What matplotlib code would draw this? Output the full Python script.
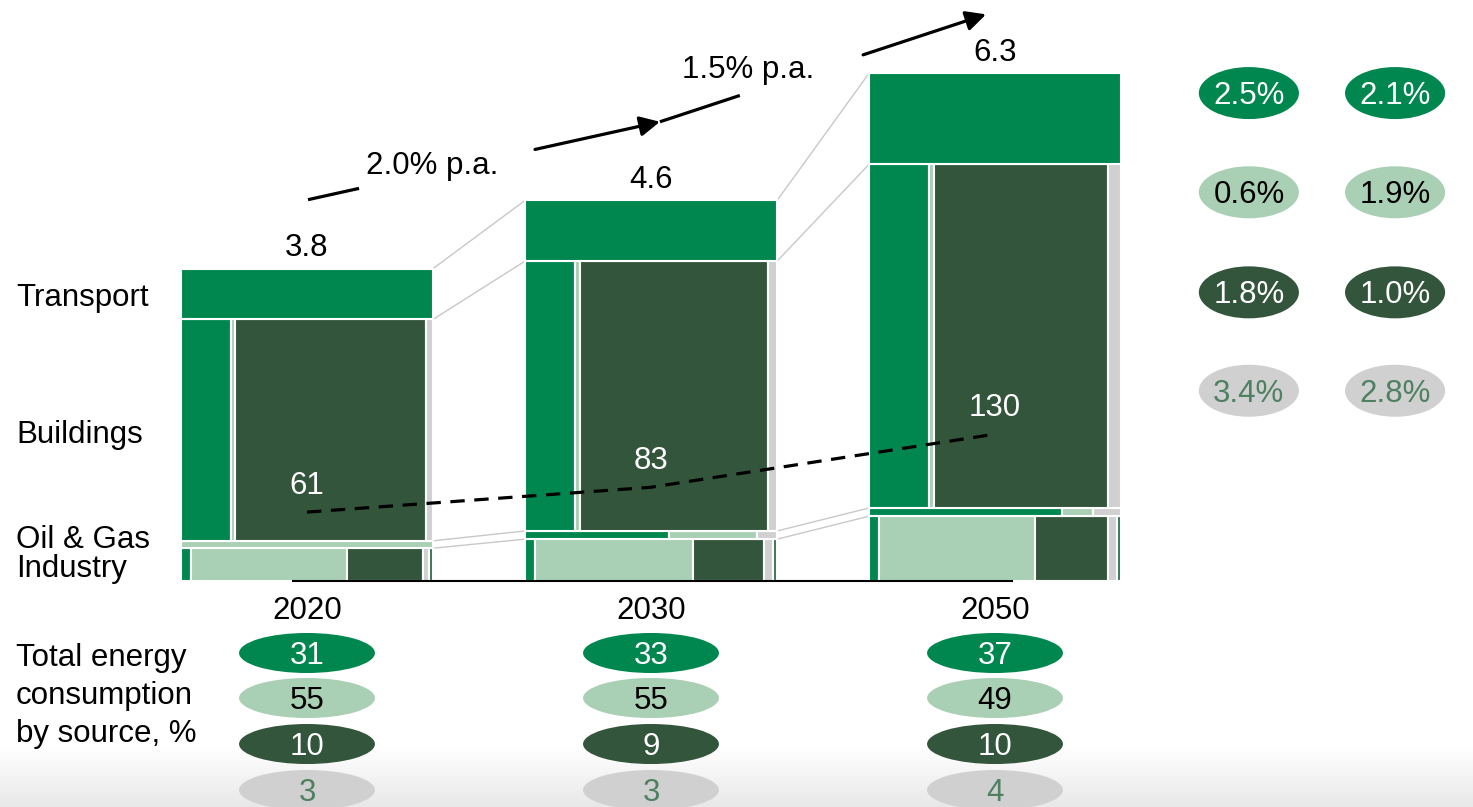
import numpy as np
import matplotlib.pyplot as plt
from matplotlib.patches import Ellipse
from matplotlib.colors import LinearSegmentedColormap

plt.rcParams['font.family'] = ['Liberation Sans', 'DejaVu Sans']
FS = 22.5

# ---- data ----
years = ['2020', '2030', '2050']
total_labels = ['3.8', '4.6', '6.3']

# stacked bottom -> top
sectors = ['Industry', 'Oil & Gas', 'Buildings', 'Transport']
sector_height = {
    'Industry':  [0.40, 0.51, 0.79],
    'Oil & Gas': [0.09, 0.10, 0.10],
    'Buildings': [2.70, 3.29, 4.19],
    'Transport': [0.62, 0.74, 1.11],
}

# width split of each sector by source (%), order: green, light green, dark green, grey, other
source_share = {
    'Transport': [[100, 0, 0, 0, 0], [100, 0, 0, 0, 0], [100, 0, 0, 0, 0]],
    'Buildings': [[20, 1.5, 75.5, 3, 0], [20, 2, 74.5, 3.5, 0], [24, 2, 69, 5, 0]],
    'Oil & Gas': [[0, 100, 0, 0, 0], [57, 35, 0, 8, 0], [76.5, 12.5, 0, 11, 0]],
    'Industry':  [[4, 62, 30, 2.5, 1.5], [4, 62.5, 28.5, 3.5, 1.5], [4, 62, 29, 3.5, 1.5]],
}

intensity = [61, 83, 130]
growth_labels = ['2.0% p.a.', '1.5% p.a.']

# total energy consumption by source, %  (rows: green, light, dark, grey)
mix_2020 = [31, 55, 10, 3]
mix_2030 = [33, 55, 9, 3]
mix_2050 = [37, 49, 10, 4]

cagr_2020_2030 = ['2.5%', '0.6%', '1.8%', '3.4%']
cagr_2030_2050 = ['2.1%', '1.9%', '1.0%', '2.8%']

# ---- styling ----
GREEN = '#00874f'
LIGHT = '#a9cfb4'
DARK = '#33553b'
GREY = '#d0d0d0'
OTHER = '#3a7757'
src_colors = [GREEN, LIGHT, DARK, GREY, OTHER]
oval_text = ['white', 'black', 'white', '#4e8062']

bar_w = 0.733
x = np.arange(len(years))

fig = plt.figure(figsize=(14.73, 8.07), dpi=100)

# faint grey band at the very bottom
bg = fig.add_axes([0, 0, 1, 1])
bg.axis('off')
bg.set_xlim(0, 1)
bg.set_ylim(0, 1)
cmap = LinearSegmentedColormap.from_list('band', ['white', '#e8e8e8'])
grad = np.linspace(0, 1, 100)[:, None]
bg.imshow(grad, extent=[0, 1, 0, 60 / 807], aspect='auto', cmap=cmap, vmin=0, vmax=1)

ax = fig.add_axes([0, 0, 1, 1])
ax.axis('off')
ax.set_xlim(-0.8924, 3.3895)
ax.set_ylim(-2.756, 7.085)


def centred_text(axis, xy, s, color='black', **kw):
    # digits centred on xy (baseline pushed down by half the cap height)
    axis.annotate(s, xy, xytext=(0, -8), textcoords='offset points', ha='center',
                  va='baseline', fontsize=FS, color=color, **kw)


# ---- marimekko-style stacked bars ----
levels = np.zeros((len(sectors) + 1, len(years)))
for i in range(len(years)):
    bottom = 0.0
    for k, s in enumerate(sectors):
        h = sector_height[s][i]
        left = x[i] - bar_w / 2
        for share, c in zip(source_share[s][i], src_colors):
            if share <= 0:
                continue
            w = bar_w * share / 100
            ax.bar(left, h, width=w, bottom=bottom, align='edge', color=c,
                   edgecolor='white', linewidth=1.5, zorder=2)
            left += w
        bottom += h
        levels[k + 1, i] = bottom
    ax.annotate(total_labels[i], (x[i], bottom), xytext=(0, 9), textcoords='offset points',
                ha='center', va='baseline', fontsize=FS)
    ax.annotate(years[i], (x[i], 0), xytext=(0, -27.5), textcoords='offset points',
                ha='center', va='baseline', fontsize=FS)

# connector lines between bars
for i in range(len(years) - 1):
    for k in range(1, len(sectors) + 1):
        ax.plot([x[i] + bar_w / 2, x[i + 1] - bar_w / 2], [levels[k, i], levels[k, i + 1]],
                color='#c8c8c8', lw=1, zorder=1)

# baseline
ax.plot([x[0] - 0.04, x[-1] + 0.05], [0, 0], color='black', lw=1.5, zorder=3)

# sector labels on the left (next to the 2020 bar segments)
ytf = ax.get_yaxis_transform()
mid = (levels[:-1, 0] + levels[1:, 0]) / 2
label_offsets = {'Transport': -8.3, 'Buildings': -9.2, 'Oil & Gas': -2.2, 'Industry': -8.6}
for k, s in enumerate(sectors):
    ax.annotate(s, (0.0109, mid[k]), xycoords=ytf, xytext=(0, label_offsets[s]),
                textcoords='offset points', ha='left', va='baseline', fontsize=FS)

# energy intensity line on its own scale
ax2 = ax.twinx()
ax2.axis('off')
k_int = 72.6
ax2.set_ylim(ax.get_ylim()[0] * k_int, ax.get_ylim()[1] * k_int)
ax2.plot(x, intensity, color='black', lw=2.3, dashes=(4.5, 3), zorder=4)
for xi, v in zip(x, intensity):
    ax2.annotate(str(v), (xi, v), xytext=(0, 13), textcoords='offset points',
                 ha='center', va='baseline', fontsize=FS, color='white')

# growth arrows with a gap for the label
arrow_x = [0.003, 1.026, 1.974]
arrow_y = [4.65, 5.60, 6.91]
gaps = [(0.145, 0.645), (0.245, 0.623)]
label_pos = [(0.363, 5.06), (1.282, 6.23)]
for j in range(2):
    p0 = np.array([arrow_x[j], arrow_y[j]])
    p1 = np.array([arrow_x[j + 1], arrow_y[j + 1]])
    a = p0 + (p1 - p0) * gaps[j][0]
    b = p0 + (p1 - p0) * gaps[j][1]
    ax.plot([p0[0], a[0]], [p0[1], a[1]], color='black', lw=2.3, solid_capstyle='butt')
    ax.annotate('', xy=p1, xytext=b,
                arrowprops=dict(arrowstyle='-|>,head_length=0.6,head_width=0.3', color='black',
                                lw=2.3, shrinkA=0, shrinkB=0, mutation_scale=20))
    ax.text(label_pos[j][0], label_pos[j][1], growth_labels[j], ha='center', va='center', fontsize=FS)

# bottom ovals: consumption mix by source
mix_rows_y = [-0.878, -1.427, -1.988, -2.549]
for i, mix in enumerate([mix_2020, mix_2030, mix_2050]):
    for r, v in enumerate(mix):
        ax.add_patch(Ellipse((x[i], mix_rows_y[r]), 0.395, 0.488, color=src_colors[r], lw=0, zorder=2))
        centred_text(ax, (x[i], mix_rows_y[r]), str(v), color=oval_text[r], zorder=3)

ax.text(0.0109, -0.75, 'Total energy\nconsumption\nby source, %', transform=ytf,
        ha='left', va='top', fontsize=FS, linespacing=1.36)

# right ovals: growth by source
cagr_cols_x = [2.738, 3.163]
cagr_rows_y = [5.95, 4.74, 3.52, 2.32]
for cx, col in zip(cagr_cols_x, [cagr_2020_2030, cagr_2030_2050]):
    for r, lab in enumerate(col):
        ax.add_patch(Ellipse((cx, cagr_rows_y[r]), 0.291, 0.634, color=src_colors[r], lw=0, zorder=2))
        centred_text(ax, (cx, cagr_rows_y[r]), lab, color=oval_text[r], zorder=3)

fig.savefig('out.png', dpi=100)
